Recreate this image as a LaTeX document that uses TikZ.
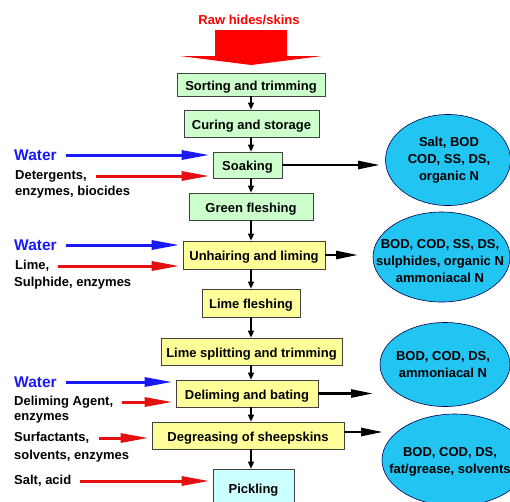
\documentclass[tikz,border=0pt]{standalone}
\usepackage{fontspec}
\setmainfont{Liberation Sans}
\usetikzlibrary{arrows.meta,shapes.geometric}
\definecolor{boxgreen}{HTML}{CCFFCC}
\definecolor{boxyellow}{HTML}{FFFF99}
\definecolor{boxcyan}{HTML}{CCFFFF}
\definecolor{ellcyan}{HTML}{22C4F2}
\definecolor{wblue}{HTML}{1A1AF5}
\definecolor{ared}{HTML}{E41010}
\newcommand\labfont{\bfseries\fontsize{13}{17}\selectfont}

\begin{document}
\begin{tikzpicture}[x=1pt,y=-1pt,
    stage/.style={draw=black!75,line width=0.7pt,inner sep=0pt,minimum height=27pt,text height=11.5pt,text depth=0pt,font=\labfont},
    waste/.style={ellipse,draw=blue!30!black,line width=0.6pt,fill=ellcyan,inner sep=0pt},
    wastetext/.style={inner sep=0pt,align=center,font=\labfont},
    feed/.style={anchor=west,inner sep=0pt,font=\labfont},
    water/.style={anchor=west,inner sep=0pt,text=wblue,font=\bfseries\fontsize{15.5}{18}\selectfont},
    down/.style={-{Triangle[length=7pt,width=6pt]},line width=1.2pt},
    inflow/.style={-{Triangle[length=28pt,width=9pt]},line width=3pt,shorten <=9pt,shorten >=3pt},
    outflow/.style={-{Triangle[length=22pt,width=8pt]},line width=2.5pt}]
    \useasboundingbox (0,0) rectangle (510,501);
    % raw material
    \node[text=red,font=\labfont] (raw) at (249,20) {Raw hides/skins};
    \fill[red] (215,30) -- (287,30) -- (287,56) -- (322,56) -- (251,65) -- (180,56) -- (215,56) -- cycle;
    % process stages
    \node[stage,fill=boxgreen,minimum width=148pt,minimum height=23pt] (sort) at (251,84.5) {Sorting and trimming};
    \node[stage,fill=boxgreen,minimum width=135pt] (cure) at (251.5,123.5) {Curing and storage};
    \node[stage,fill=boxgreen,minimum width=69pt,minimum height=26pt] (soak) at (247.5,165) {Soaking};
    \node[stage,fill=boxgreen,minimum width=124pt] (green) at (251,206.5) {Green fleshing};
    \node[stage,fill=boxyellow,minimum width=142pt,minimum height=28pt] (unhair) at (254,255) {Unhairing and liming};
    \node[stage,fill=boxyellow,minimum width=98pt,minimum height=28pt] (limefl) at (251,303) {Lime fleshing};
    \node[stage,fill=boxyellow,minimum width=181pt] (split) at (251.5,351.5) {Lime splitting and trimming};
    \node[stage,fill=boxyellow,minimum width=142pt] (delime) at (247,393.5) {Deliming and bating};
    \node[stage,fill=boxyellow,minimum width=192pt] (degrease) at (248,435.5) {Degreasing of sheepskins};
    \node[stage,fill=boxcyan,minimum width=81pt,minimum height=38pt] (pickle) at (253.5,488) {Pickling};
    \coordinate (axis) at (251,0);
    \foreach \a/\b in {sort/cure,cure/soak,soak/green,green/unhair,unhair/limefl,limefl/split,split/delime,delime/degrease,degrease/pickle}
        \draw[down] (\a.south -| axis) -- (\b.north -| axis);
    % inputs
    \node[water] (wat1) at (14,155) {Water};
    \node[feed] (det) at (15,176) {Detergents,};
    \node[feed] (det2) at (15,192) {enzymes, biocides};
    \draw[inflow,wblue] (wat1.east) -- (wat1.east -| soak.west);
    \draw[inflow,ared] (det.east) -- (det.east -| soak.west);
    \node[water] (wat2) at (14,245) {Water};
    \node[feed] (lime) at (15,266) {Lime,};
    \node[feed] (lime2) at (14,283) {Sulphide, enzymes};
    \draw[inflow,wblue] (wat2.east) -- (wat2.east -| unhair.west);
    \draw[inflow,ared] (lime.east) -- (lime.east -| unhair.west);
    \node[water] (wat3) at (14,382) {Water};
    \node[feed] (agent) at (14,402) {Deliming Agent,};
    \node[feed] (agent2) at (14,418) {enzymes};
    \draw[inflow,wblue] (wat3.east) -- (wat3.east -| delime.west);
    \draw[inflow,ared] (agent.east) -- (agent.east -| delime.west);
    \node[feed] (surf) at (14,438) {Surfactants,};
    \node[feed] (surf2) at (14,456) {solvents, enzymes};
    \draw[inflow,ared] (surf.east) -- (surf.east -| degrease.west);
    \node[feed] (salt) at (14,481) {Salt, acid};
    \draw[inflow,ared] (salt.east) -- (salt.east -| pickle.west);
    % effluents
    \node[waste,minimum width=125pt,minimum height=91pt] (eff1) at (448,160) {};
    \node[wastetext] (txt1) at (449,160.5) {Salt, BOD\\COD, SS, DS,\\organic N};
    \node[waste,minimum width=137pt,minimum height=90pt] (eff2) at (441.5,257) {};
    \node[wastetext] (txt2) at (440,261) {BOD, COD, SS, DS,\\sulphides, organic N\\ammoniacal N};
    \node[waste,minimum width=130pt,minimum height=84pt] (eff3) at (445,364.5) {};
    \node[wastetext] (txt3) at (443,364.5) {BOD, COD, DS,\\ammoniacal N};
    \node[waste,minimum width=146pt,minimum height=92pt] (eff4) at (455,460) {};
    \node[wastetext] (txt4) at (450,461.5) {BOD, COD, DS,\\fat/grease, solvents};
    \coordinate (o1) at (380,165);
    \coordinate (o2) at (358,255);
    \coordinate (o3) at (373,393.5);
    \coordinate (o4) at (383,432);
    \draw[outflow] (soak.east) -- (o1);
    \draw[outflow] (unhair.east) -- (o2);
    \draw[outflow] (delime.east) -- (o3);
    \draw[outflow] (degrease.east |- o4) -- (o4);
\end{tikzpicture}
\end{document}
